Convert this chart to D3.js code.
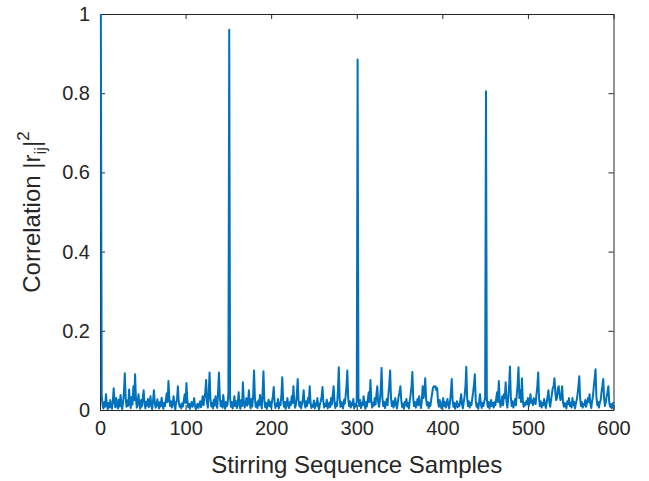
<!DOCTYPE html>
<html>
<head>
<meta charset="utf-8">
<script src="https://cdn.jsdelivr.net/npm/d3@7"></script>
<style>
  body { margin: 0; background: #fff; }
  svg { display: block; font-family: "Liberation Sans", Arial, sans-serif; }
</style>
</head>
<body>
<div class="container_graph"></div>
<script>
// valores (muestras 1..600, indice estilo matlab)
const correlation = [
  1.0, 0.035, 0.012, 0.004, 0.02, 0.008, 0.04, 0.015, 0.002, 0.018, 0.006, 0.025, 0.01, 0.003, 0.022, 0.055, 0.02, 0.007, 0.03, 0.012,
  0.004, 0.026, 0.009, 0.038, 0.015, 0.002, 0.02, 0.045, 0.093, 0.03, 0.008, 0.024, 0.011, 0.052, 0.02, 0.005, 0.033, 0.014, 0.06, 0.025,
  0.09, 0.028, 0.006, 0.019, 0.04, 0.012, 0.003, 0.025, 0.009, 0.03, 0.05, 0.017, 0.004, 0.021, 0.011, 0.028, 0.007, 0.016, 0.035, 0.01,
  0.002, 0.024, 0.05, 0.019, 0.006, 0.014, 0.027, 0.012, 0.004, 0.02, 0.009, 0.031, 0.015, 0.003, 0.018, 0.01, 0.026, 0.042, 0.02, 0.073,
  0.03, 0.01, 0.022, 0.006, 0.015, 0.035, 0.012, 0.002, 0.019, 0.028, 0.06, 0.02, 0.008, 0.014, 0.004, 0.017, 0.009, 0.025, 0.04, 0.018,
  0.068, 0.025, 0.007, 0.016, 0.003, 0.012, 0.02, 0.008, 0.014, 0.03, 0.011, 0.002, 0.009, 0.016, 0.005, 0.013, 0.022, 0.007, 0.018, 0.035,
  0.012, 0.028, 0.045, 0.076, 0.02, 0.006, 0.04, 0.095, 0.03, 0.009, 0.018, 0.004, 0.026, 0.011, 0.035, 0.015, 0.005, 0.05, 0.095, 0.032,
  0.01, 0.023, 0.006, 0.038, 0.015, 0.003, 0.02, 0.009, 0.014, 0.04, 0.96, 0.03, 0.008, 0.02, 0.004, 0.015, 0.035, 0.01, 0.022, 0.005,
  0.018, 0.045, 0.012, 0.003, 0.025, 0.01, 0.07, 0.022, 0.006, 0.016, 0.03, 0.011, 0.02, 0.05, 0.015, 0.004, 0.028, 0.009, 0.04, 0.1,
  0.03, 0.008, 0.019, 0.005, 0.024, 0.012, 0.038, 0.015, 0.004, 0.045, 0.098, 0.025, 0.007, 0.018, 0.003, 0.014, 0.026, 0.01, 0.02, 0.006,
  0.022, 0.035, 0.058, 0.02, 0.005, 0.016, 0.01, 0.028, 0.004, 0.018, 0.012, 0.04, 0.083, 0.025, 0.008, 0.02, 0.003, 0.015, 0.03, 0.01,
  0.005, 0.02, 0.012, 0.035, 0.018, 0.06, 0.02, 0.006, 0.014, 0.04, 0.078, 0.025, 0.009, 0.02, 0.004, 0.016, 0.028, 0.05, 0.015, 0.006,
  0.022, 0.01, 0.03, 0.018, 0.06, 0.02, 0.005, 0.013, 0.008, 0.024, 0.004, 0.017, 0.011, 0.03, 0.009, 0.002, 0.015, 0.022, 0.035, 0.058,
  0.02, 0.006, 0.016, 0.01, 0.026, 0.004, 0.012, 0.019, 0.007, 0.03, 0.014, 0.04, 0.06, 0.02, 0.005, 0.018, 0.01, 0.05, 0.108, 0.03,
  0.008, 0.02, 0.012, 0.004, 0.025, 0.016, 0.035, 0.06, 0.1, 0.03, 0.01, 0.022, 0.006, 0.018, 0.012, 0.028, 0.004, 0.015, 0.009, 0.02,
  0.885, 0.03, 0.01, 0.025, 0.005, 0.018, 0.012, 0.035, 0.015, 0.003, 0.02, 0.009, 0.028, 0.045, 0.02, 0.076, 0.025, 0.006, 0.018, 0.011,
  0.03, 0.014, 0.04, 0.06, 0.02, 0.008, 0.024, 0.05, 0.106, 0.03, 0.01, 0.02, 0.005, 0.016, 0.028, 0.012, 0.04, 0.065, 0.1, 0.032,
  0.01, 0.022, 0.006, 0.018, 0.03, 0.012, 0.004, 0.02, 0.035, 0.045, 0.06, 0.025, 0.008, 0.016, 0.003, 0.02, 0.012, 0.028, 0.009, 0.018,
  0.004, 0.025, 0.04, 0.06, 0.096, 0.03, 0.01, 0.02, 0.006, 0.015, 0.028, 0.012, 0.035, 0.018, 0.005, 0.022, 0.06, 0.03, 0.045, 0.08,
  0.03, 0.012, 0.02, 0.005, 0.018, 0.01, 0.026, 0.04, 0.055, 0.06, 0.058, 0.06, 0.05, 0.055, 0.02, 0.008, 0.025, 0.012, 0.004, 0.018,
  0.03, 0.01, 0.02, 0.006, 0.015, 0.028, 0.012, 0.004, 0.02, 0.045, 0.078, 0.025, 0.008, 0.018, 0.003, 0.012, 0.022, 0.007, 0.016, 0.01,
  0.025, 0.04, 0.015, 0.004, 0.02, 0.035, 0.06, 0.109, 0.03, 0.01, 0.022, 0.006, 0.018, 0.012, 0.03, 0.045, 0.065, 0.09, 0.025, 0.008,
  0.016, 0.003, 0.02, 0.04, 0.015, 0.005, 0.018, 0.01, 0.022, 0.03, 0.805, 0.028, 0.008, 0.02, 0.004, 0.014, 0.025, 0.01, 0.018, 0.006,
  0.02, 0.012, 0.03, 0.045, 0.02, 0.073, 0.025, 0.008, 0.018, 0.035, 0.012, 0.04, 0.03, 0.07, 0.02, 0.006, 0.03, 0.06, 0.11, 0.035,
  0.01, 0.022, 0.006, 0.016, 0.028, 0.012, 0.04, 0.065, 0.108, 0.03, 0.05, 0.02, 0.08, 0.025, 0.008, 0.018, 0.012, 0.022, 0.015, 0.03,
  0.01, 0.02, 0.04, 0.018, 0.025, 0.012, 0.03, 0.02, 0.015, 0.04, 0.06, 0.095, 0.03, 0.01, 0.022, 0.006, 0.018, 0.012, 0.028, 0.015,
  0.005, 0.02, 0.035, 0.05, 0.02, 0.008, 0.025, 0.04, 0.055, 0.06, 0.08, 0.045, 0.025, 0.03, 0.055, 0.06, 0.04, 0.025, 0.03, 0.06,
  0.02, 0.008, 0.018, 0.012, 0.004, 0.022, 0.015, 0.03, 0.01, 0.018, 0.006, 0.03, 0.012, 0.02, 0.004, 0.016, 0.025, 0.04, 0.06, 0.085,
  0.03, 0.01, 0.02, 0.006, 0.015, 0.012, 0.025, 0.008, 0.018, 0.03, 0.02, 0.04, 0.015, 0.005, 0.022, 0.035, 0.06, 0.08, 0.103, 0.035,
  0.012, 0.02, 0.006, 0.018, 0.025, 0.045, 0.06, 0.078, 0.03, 0.01, 0.02, 0.035, 0.045, 0.06, 0.02, 0.008, 0.015, 0.004, 0.012, 0.02
];
const xTicks = [0, 100, 200, 300, 400, 500, 600];
const yTicks = [0, 0.2, 0.4, 0.6, 0.8, 1];

// medidas
const width = 649;
const height = 481;
const margin = { top: 14, right: 35.5, bottom: 71, left: 100 };
const axisColor = "#262626";
const lineColor = "#0072BD";

const svg = d3
  .select(".container_graph")
  .append("svg")
  .attr("width", width)
  .attr("height", height)
  .style("background-color", "#fff");

const x = d3.scaleLinear().domain([0, 600]).range([margin.left, width - margin.right]);
const y = d3.scaleLinear().domain([0, 1]).range([height - margin.bottom, margin.top]);

// ejes estilo matlab (ticks hacia adentro, caja completa)
const tickLen = 5;
const styleAxis = (g) => {
  g.select(".domain").attr("stroke", axisColor);
  g.selectAll(".tick line").attr("stroke", axisColor);
  g.selectAll(".tick text")
    .attr("fill", axisColor)
    .style("font-size", "20px");
};

svg
  .append("g")
  .attr("transform", `translate(0,${y(0)})`)
  .call(d3.axisBottom(x).tickValues(xTicks).tickSizeInner(-tickLen).tickSizeOuter(0).tickPadding(11))
  .call(styleAxis);

svg
  .append("g")
  .attr("transform", `translate(${x(0)},0)`)
  .call(d3.axisLeft(y).tickValues(yTicks).tickFormat(d3.format("")).tickSizeInner(-tickLen).tickSizeOuter(0).tickPadding(10))
  .call(styleAxis);

svg
  .append("g")
  .attr("transform", `translate(0,${y(1)})`)
  .call(d3.axisTop(x).tickValues(xTicks).tickSizeInner(-tickLen).tickSizeOuter(0).tickFormat(""))
  .call(styleAxis);

svg
  .append("g")
  .attr("transform", `translate(${x(600)},0)`)
  .call(d3.axisRight(y).tickValues(yTicks).tickSizeInner(-tickLen).tickSizeOuter(0).tickFormat(""))
  .call(styleAxis);

// linea de datos (encima de los ejes)
const line = d3
  .line()
  .x((d, i) => x(i + 1))
  .y((d) => y(d));

svg
  .append("path")
  .datum(correlation)
  .attr("fill", "none")
  .attr("stroke", lineColor)
  .attr("stroke-width", 2)
  .attr("stroke-linejoin", "round")
  .attr("d", line);

// etiquetas de ejes
svg
  .append("text")
  .attr("x", (x(0) + x(600)) / 2)
  .attr("y", 473)
  .attr("text-anchor", "middle")
  .attr("fill", axisColor)
  .style("font-size", "24px")
  .text("Stirring Sequence Samples");

const yLabel = svg
  .append("text")
  .attr("transform", `translate(40,${(y(0) + y(1)) / 2}) rotate(-90)`)
  .attr("text-anchor", "middle")
  .attr("fill", axisColor)
  .style("font-size", "24px");

yLabel.append("tspan").text("Correlation |r");
yLabel.append("tspan").attr("dy", 6).style("font-size", "17px").text("ij");
yLabel.append("tspan").attr("dy", -6).text("|");
yLabel.append("tspan").attr("dy", -11).style("font-size", "17px").text("2");
</script>
</body>
</html>
